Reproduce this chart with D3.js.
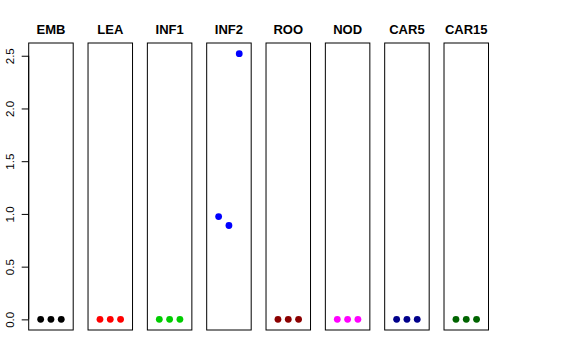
<!DOCTYPE html>
<html>
<head>
<meta charset="utf-8">
<script src="https://cdn.jsdelivr.net/npm/d3@7"></script>
<style>
body { margin: 0; background: #fff; }
</style>
</head>
<body>
<div id="chart"></div>
<script>
var w = 576,
	h = 360;

// panels and their point values (3 points each)
var panels = ["EMB", "LEA", "INF1", "INF2", "ROO", "NOD", "CAR5", "CAR15"];
var colors = ["#000000", "#FF0000", "#00CD00", "#0000FF", "#8B0000", "#FF00FF", "#00008B", "#006400"];
var values = [
	[0, 0, 0],
	[0, 0, 0],
	[0, 0, 0],
	[0.975, 0.89, 2.52],
	[0, 0, 0],
	[0, 0, 0],
	[0, 0, 0],
	[0, 0, 0]
];
var yTicks = [0, 0.5, 1.0, 1.5, 2.0, 2.5];

var plotTop = 43, plotBottom = 330;
var firstLeft = 28.7, step = 59.33, pw = 44.5;

var svg = d3.select("#chart")
	.append("svg")
	.attr("width", w)
	.attr("height", h);

// y range like R: data range plus 4% each side
var ymax = 2.52;
var pad = ymax * 0.04;
var y = d3.scaleLinear()
	.domain([-pad, ymax + pad])
	.range([plotBottom, plotTop]);

// panel position scale
var px = d3.scaleLinear()
	.domain([0, 1])
	.range([firstLeft, firstLeft + step]);

// y axis
var yAxis = d3.axisLeft(y)
	.tickValues(yTicks)
	.tickSize(7)
	.tickFormat(d3.format(".1f"));

var ax = svg.append("g")
	.attr("transform", "translate(" + firstLeft + ",0)")
	.call(yAxis);
ax.select(".domain")
	.attr("d", "M0," + y(0) + "V" + y(2.5))
	.attr("stroke", "#000");
ax.selectAll(".tick line").attr("stroke", "#000");
ax.selectAll(".tick text")
	.attr("transform", "rotate(-90)")
	.attr("x", 0)
	.attr("y", -15)
	.attr("dy", "0")
	.style("text-anchor", "middle")
	.attr("font-family", "Liberation Sans, Arial, sans-serif")
	.attr("font-size", "11.5px")
	.attr("fill", "#000");

var panel = svg.selectAll(".panel")
	.data(panels)
	.enter()
	.append("g")
	.attr("class", "panel")
	.attr("transform", function(d, i) {
		return "translate(" + px(i) + ",0)";
	});

panel.append("rect")
	.attr("x", 0)
	.attr("y", plotTop)
	.attr("width", pw)
	.attr("height", plotBottom - plotTop)
	.attr("fill", "none")
	.attr("stroke", "#000")
	.attr("stroke-width", 1);

panel.append("text")
	.attr("x", pw / 2)
	.attr("y", 34)
	.style("text-anchor", "middle")
	.attr("font-family", "Liberation Sans, Arial, sans-serif")
	.attr("font-weight", "bold")
	.attr("font-size", "13px")
	.text(function(d) { return d; });

// x inside each panel: points at 1,2,3 with xlim 0..4 plus 4%
var x = d3.scaleLinear()
	.domain([-0.16, 4.16])
	.range([0, pw]);

panel.each(function(p, i) {
	d3.select(this).selectAll("circle")
		.data(values[i])
		.enter()
		.append("circle")
		.attr("cx", function(d, j) { return x(j + 1); })
		.attr("cy", function(d) { return y(d); })
		.attr("r", 3.4)
		.style("fill", colors[i]);
});
</script>
</body>
</html>
